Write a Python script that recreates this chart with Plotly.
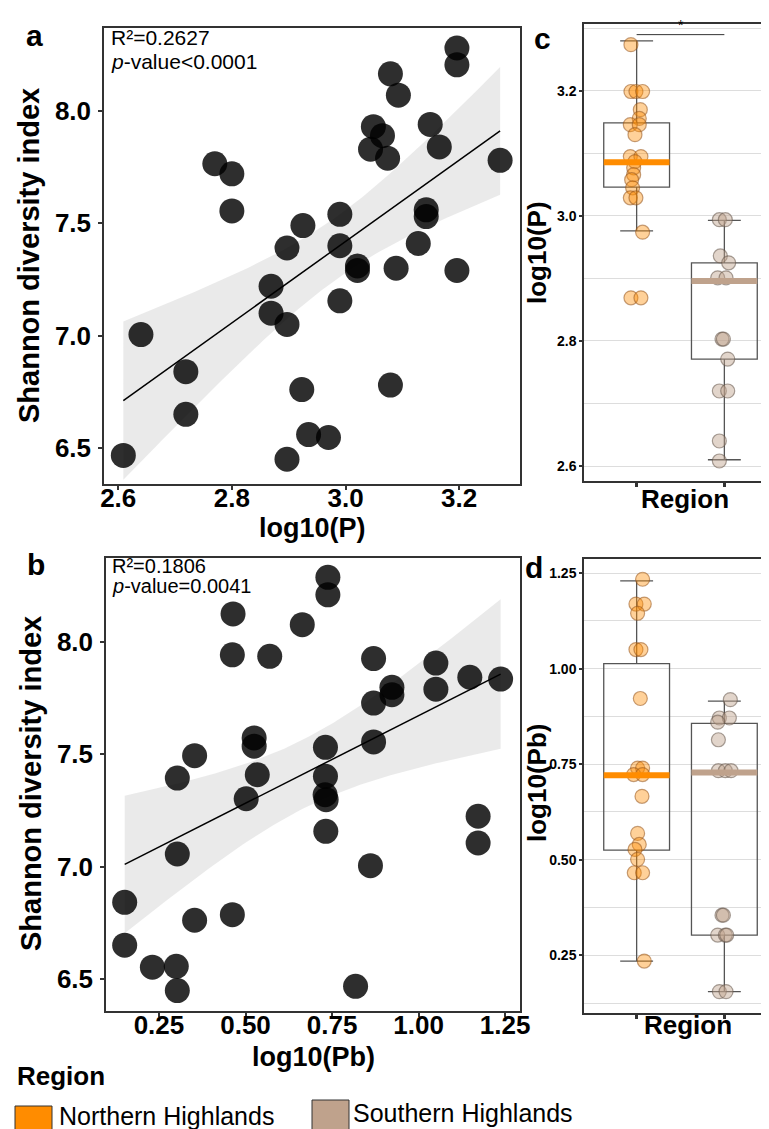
import numpy as np
import plotly.graph_objects as go

W, H = 769, 1129
FONT = "Liberation Sans, Arial, sans-serif"

# ---------------- data ----------------
# Panel a: log10(P) vs Shannon diversity index
logP_a = [3.196, 3.196, 3.079, 3.093, 3.049, 3.065, 3.044, 3.074, 3.149, 3.165,
          3.272, 2.770, 2.800, 2.800, 3.142, 3.142, 2.990, 2.925, 2.897, 2.990,
          3.128, 3.021, 3.021, 3.089, 3.196, 2.869, 2.869, 2.897, 2.990, 2.640,
          2.719, 2.719, 2.609, 2.923, 3.079, 2.935, 2.970, 2.897]
shannon_a = [8.280, 8.205, 8.165, 8.070, 7.930, 7.890, 7.830, 7.790, 7.940, 7.840,
             7.780, 7.765, 7.720, 7.555, 7.560, 7.530, 7.540, 7.490, 7.390, 7.400,
             7.410, 7.310, 7.290, 7.300, 7.290, 7.220, 7.100, 7.050, 7.155, 7.005,
             6.840, 6.650, 6.467, 6.760, 6.780, 6.560, 6.547, 6.450]

# Panel b: log10(Pb) vs Shannon diversity index
logPb_b = [0.738, 0.738, 0.464, 0.664, 0.462, 0.570, 0.870, 1.050, 1.148, 1.237,
           1.050, 0.923, 0.923, 0.870, 0.870, 0.525, 0.525, 0.353, 0.303, 0.534,
           0.731, 0.731, 0.502, 0.730, 0.733, 1.172, 1.172, 0.732, 0.303, 0.861,
           0.151, 0.462, 0.353, 0.151, 0.231, 0.300, 0.303, 0.818]
shannon_b = [8.288, 8.210, 8.125, 8.077, 7.943, 7.936, 7.926, 7.906, 7.843, 7.835,
             7.790, 7.798, 7.765, 7.728, 7.555, 7.573, 7.536, 7.494, 7.394, 7.409,
             7.531, 7.402, 7.302, 7.320, 7.298, 7.224, 7.105, 7.157, 7.056, 7.004,
             6.841, 6.786, 6.761, 6.650, 6.552, 6.556, 6.448, 6.467]

stats_a = ("0.2627", "<0.0001")
stats_b = ("0.1806", "=0.0041")

regions = ["Northern Highlands", "Southern Highlands"]
region_colors = ["#FF8C00", "#BFA28C"]

# Panel c: log10(P) by region (values and horizontal jitter)
c_north = [3.274, 3.199, 3.199, 3.199, 3.170, 3.156, 3.146, 3.146, 3.130, 3.095,
           3.095, 3.087, 3.077, 3.066, 3.058, 3.045, 3.029, 3.029, 2.974, 2.869, 2.869]
c_north_jit = [-0.065, -0.065, -0.008, 0.068, 0.042, 0.030, -0.072, 0.030, -0.019, -0.072,
               0.049, -0.019, -0.034, -0.034, -0.057, -0.046, -0.072, -0.008, 0.068, -0.065, 0.049]
c_south = [2.994, 2.994, 2.936, 2.925, 2.901, 2.901, 2.803, 2.803, 2.771, 2.720,
           2.720, 2.640, 2.608]
c_south_jit = [-0.057, 0.011, -0.046, 0.049, -0.076, 0.019, -0.027, -0.011, 0.038, -0.057,
               0.038, -0.057, -0.057]
c_q1 = [3.046, 2.771]
c_median = [3.086, 2.896]
c_q3 = [3.149, 2.925]
c_lower = [2.976, 2.610]
c_upper = [3.280, 2.993]

# Panel d: log10(Pb) by region
d_north = [1.234, 1.169, 1.169, 1.145, 1.050, 1.050, 0.922, 0.740, 0.740, 0.723,
           0.723, 0.666, 0.569, 0.540, 0.527, 0.501, 0.466, 0.466, 0.235]
d_north_jit = [0.068, -0.008, 0.087, 0.011, -0.008, 0.049, 0.042, 0.011, 0.068, -0.034,
               0.068, 0.061, 0.011, 0.030, -0.019, 0.011, -0.027, 0.068, 0.087]
d_south = [0.919, 0.871, 0.871, 0.860, 0.814, 0.733, 0.733, 0.733, 0.355, 0.355,
           0.303, 0.303, 0.303, 0.155, 0.155]
d_south_jit = [0.068, -0.057, 0.057, -0.076, -0.068, -0.068, 0.011, 0.076, -0.027, -0.011,
               -0.076, 0.011, 0.027, -0.057, 0.019]
d_q1 = [0.525, 0.303]
d_median = [0.721, 0.728]
d_q3 = [1.013, 0.857]
d_lower = [0.235, 0.155]
d_upper = [1.230, 0.915]

# ---------------- helpers ----------------
def px(x):
    return x / W

def py(y):
    return 1 - y / H

def fit_band(x, y, n=100):
    x = np.asarray(x, float)
    y = np.asarray(y, float)
    b1, b0 = np.polyfit(x, y, 1)
    xs = np.linspace(x.min(), x.max(), n)
    yh = b0 + b1 * xs
    resid = y - (b0 + b1 * x)
    s = np.sqrt((resid ** 2).sum() / (len(x) - 2))
    sxx = ((x - x.mean()) ** 2).sum()
    se = s * np.sqrt(1 / len(x) + (xs - x.mean()) ** 2 / sxx)
    t = 2.028
    return xs, yh, yh - t * se, yh + t * se

fig = go.Figure()

def scatter_panel(xv, yv, xa, ya):
    xs, yh, lo, hi = fit_band(xv, yv)
    fig.add_trace(go.Scatter(x=np.concatenate([xs, xs[::-1]]), y=np.concatenate([hi, lo[::-1]]),
                             fill="toself", fillcolor="rgba(160,160,160,0.22)", line=dict(width=0),
                             mode="lines", xaxis=xa, yaxis=ya, hoverinfo="skip", showlegend=False))
    fig.add_trace(go.Scatter(x=xv, y=yv, mode="markers", xaxis=xa, yaxis=ya, showlegend=False,
                             marker=dict(size=25, color="rgba(0,0,0,0.82)",
                                         line=dict(width=0))))
    fig.add_trace(go.Scatter(x=xs, y=yh, mode="lines", line=dict(color="black", width=1.5),
                             xaxis=xa, yaxis=ya, hoverinfo="skip", showlegend=False))

scatter_panel(logP_a, shannon_a, "x", "y")
scatter_panel(logPb_b, shannon_b, "x2", "y2")

pt_fill = ["rgba(255,140,0,0.40)", "rgba(191,162,140,0.45)"]
pt_line = ["rgba(150,85,30,0.55)", "rgba(100,85,75,0.55)"]

def box_panel(groups, jits, q1, med, q3, lo, hi, xa, ya):
    for i in range(2):
        fig.add_trace(go.Box(x=[i], q1=[q1[i]], median=[med[i]], q3=[q3[i]],
                             lowerfence=[lo[i]], upperfence=[hi[i]], width=0.75,
                             fillcolor="rgba(0,0,0,0)", line=dict(color="#555555", width=1.3),
                             boxpoints=False, xaxis=xa, yaxis=ya, showlegend=False, hoverinfo="skip"))
    for i in range(2):
        fig.add_trace(go.Scatter(x=[i + j for j in jits[i]], y=groups[i], mode="markers",
                                 xaxis=xa, yaxis=ya, showlegend=False,
                                 marker=dict(size=14, color=pt_fill[i],
                                             line=dict(color=pt_line[i], width=1.2))))
    for i in range(2):
        fig.add_trace(go.Scatter(x=[i - 0.375, i + 0.375], y=[med[i], med[i]], mode="lines",
                                 line=dict(color=region_colors[i], width=6),
                                 xaxis=xa, yaxis=ya, showlegend=False, hoverinfo="skip"))

box_panel([c_north, c_south], [c_north_jit, c_south_jit], c_q1, c_median, c_q3, c_lower, c_upper, "x3", "y3")
box_panel([d_north, d_south], [d_north_jit, d_south_jit], d_q1, d_median, d_q3, d_lower, d_upper, "x4", "y4")

# significance bracket on panel c
fig.add_trace(go.Scatter(x=[0, 1], y=[3.29, 3.29], mode="lines", line=dict(color="#333333", width=1),
                         xaxis="x3", yaxis="y3", showlegend=False, hoverinfo="skip"))

# ---------------- axes ----------------
line_kw = dict(showline=True, mirror=True, linecolor="#333333", linewidth=1.5,
               zeroline=False, ticks="outside", tickcolor="#333333", ticklen=4, tickwidth=1.5)
big_tick = dict(family=FONT, size=26, color="black", weight="bold")
small_tick = dict(family=FONT, size=14, color="black", weight="bold")

fig.update_layout(
    width=W, height=H, margin=dict(l=0, r=0, t=0, b=0),
    paper_bgcolor="white", plot_bgcolor="white", showlegend=False,
    xaxis=dict(domain=[px(96), px(512)], anchor="y", range=[2.575, 3.307],
               tickvals=[2.6, 2.8, 3.0, 3.2], tickformat=".1f", tickfont=big_tick,
               showgrid=False, ticklabelstandoff=-14, automargin=False, **line_kw),
    yaxis=dict(domain=[py(476), py(20)], anchor="x", range=[6.34, 8.369],
               tickvals=[6.5, 7.0, 7.5, 8.0], tickformat=".1f", tickfont=big_tick,
               showgrid=False, ticklabelstandoff=2, automargin=False, **line_kw),
    xaxis2=dict(domain=[px(98), px(512)], anchor="y2", range=[0.097, 1.293],
                tickvals=[0.25, 0.5, 0.75, 1.0, 1.25], tickformat=".2f", tickfont=big_tick,
                showgrid=False, ticklabelstandoff=-14, automargin=False, **line_kw),
    yaxis2=dict(domain=[py(1003), py(550)], anchor="x2", range=[6.357, 8.374],
                tickvals=[6.5, 7.0, 7.5, 8.0], tickformat=".1f", tickfont=big_tick,
                showgrid=False, ticklabelstandoff=2, automargin=False, **line_kw),
    xaxis3=dict(domain=[px(576), 1.0], anchor="y3", range=[-0.6, 1.6],
                tickvals=[0, 1], ticktext=["", ""], showgrid=False, automargin=False,
                **{**line_kw, "tickwidth": 2.5}),
    yaxis3=dict(domain=[py(473), py(16)], anchor="x3", range=[2.576, 3.307],
                tick0=2.6, dtick=0.2, tickformat=".1f", tickfont=small_tick,
                showgrid=True, gridcolor="#DDDDDD", gridwidth=1, automargin=False,
                minor=dict(dtick=0.1, tick0=2.6, showgrid=True, gridcolor="#DDDDDD", gridwidth=1, ticks=""),
                **{**line_kw, "ticklen": 3}),
    xaxis4=dict(domain=[px(576), 1.0], anchor="y4", range=[-0.6, 1.6],
                tickvals=[0, 1], ticktext=["", ""], showgrid=False, automargin=False,
                **{**line_kw, "tickwidth": 2.5}),
    yaxis4=dict(domain=[py(1005), py(551)], anchor="x4", range=[0.099, 1.287],
                tick0=0.25, dtick=0.25, tickformat=".2f", tickfont=small_tick,
                showgrid=True, gridcolor="#DDDDDD", gridwidth=1, automargin=False,
                minor=dict(dtick=0.125, tick0=0.125, showgrid=True, gridcolor="#DDDDDD", gridwidth=1, ticks=""),
                **{**line_kw, "ticklen": 3}),
)

# ---------------- text ----------------
def txt(x, y, text, size, bold=False, xanchor="center", yanchor="middle", angle=0, xref="paper", yref="paper"):
    fig.add_annotation(x=x, y=y, xref=xref, yref=yref, text=text, showarrow=False,
                       xanchor=xanchor, yanchor=yanchor, textangle=angle,
                       font=dict(family=FONT, size=size, color="black",
                                 weight="bold" if bold else "normal"))

# axis titles
txt(px(21), py(248), "Shannon diversity index", 29, bold=True, angle=-90)
txt(px(304), py(520), "log10(P)", 27, bold=True)
txt(px(23), py(776), "Shannon diversity index", 29, bold=True, angle=-90)
txt(px(305), py(1049), "log10(Pb)", 27, bold=True)
txt(px(529), py(245), "log10(P)", 26, bold=True, angle=-90)
txt(px(677), py(491), "Region", 26, bold=True)
txt(px(529), py(775), "log10(Pb)", 26, bold=True, angle=-90)
txt(px(680), py(1017), "Region", 26, bold=True)

# panel letters
txt(px(26), py(27), "a", 30, bold=True)
txt(px(28), py(557), "b", 30, bold=True)
txt(px(534), py(31), "c", 30, bold=True)
txt(px(526), py(559), "d", 30, bold=True)

# statistics
txt(px(101), py(30), f"R²={stats_a[0]}", 21, xanchor="left")
txt(px(101), py(53), f"<i>p</i>-value{stats_a[1]}".replace("<0", "&lt;0"), 21, xanchor="left")
txt(px(102), py(558), f"R²={stats_b[0]}", 20, xanchor="left")
txt(px(102), py(578), f"<i>p</i>-value{stats_b[1]}", 20, xanchor="left")

# significance star
txt(0.5, 3.289, "*", 14, yanchor="bottom", xref="x3", yref="y3")

# manual legend
txt(px(7), py(1068), "Region", 26, bold=True, xanchor="left")
fig.add_shape(type="rect", xref="paper", yref="paper", x0=px(7), x1=px(44), y0=py(1135), y1=py(1098),
              fillcolor=region_colors[0], line=dict(color="#333333", width=1))
fig.add_shape(type="rect", xref="paper", yref="paper", x0=px(304), x1=px(341), y0=py(1128), y1=py(1092),
              fillcolor=region_colors[1], line=dict(color="#333333", width=1))
txt(px(49), py(1108), regions[0], 25, xanchor="left")
txt(px(343), py(1105), regions[1], 25, xanchor="left")

fig.write_html("out.html")
